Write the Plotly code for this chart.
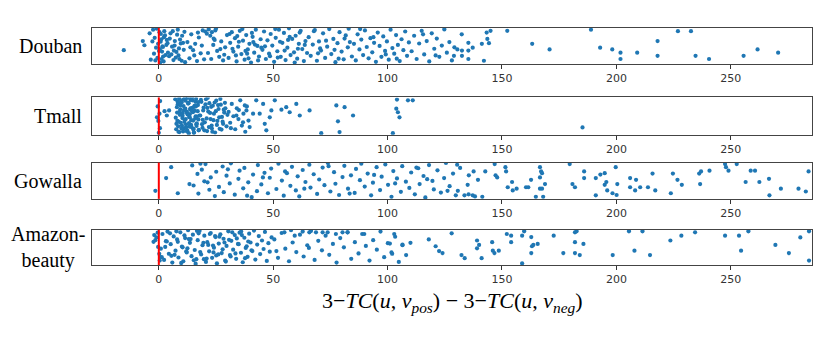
import plotly.graph_objects as go

# panel names (left labels)
datasets = ["Douban", "Tmall", "Gowalla", "Amazon-<br>beauty"]
tick_vals = [0, 50, 100, 150, 200, 250]

# Douban: x = metric difference, y = vertical jitter (0..1)
douban_x = [-15.3, -7.0, -6.3, -4.0, -3.5,
            -2.5, -1.8, -1.2, -0.6, 0.3, 0.8, 1.4, 2.1, 2.7, 3.3, -2.1, -0.9, 0.5, 1.1, 1.9, 2.4, 3.8, -1.5, 0.1, 0.9, 1.6, 2.9, 3.5, -0.3, 1.2, 2.2, 4.0, -2.8, 0.6, 1.8,
            4.5, 5.1, 5.8, 6.4, 7.0, 7.7, 8.3, 9.0, 9.6, 10.2, 10.9, 11.5, 4.8, 5.5, 6.1, 6.9, 7.4, 8.0, 8.8, 9.3, 10.0, 10.6, 11.2, 6.6, 8.6,
            12.5, 13.4, 14.2, 15.0, 15.9, 16.7, 17.5, 18.3, 19.2, 13.8, 15.5, 17.1, 18.8, 19.8,
            20.3, 21.0, 21.8, 22.5, 23.2, 24.0, 24.7, 25.5, 26.4, 27.3, 28.1, 29.0, 29.8, 21.5, 23.8, 25.0, 26.9, 28.6, 22.9, 24.4,
            30.5, 31.2, 31.9, 32.6, 33.3, 34.0, 34.7, 35.4, 36.1, 36.8, 37.5, 38.2, 38.9, 39.6, 40.3, 41.0, 41.7, 42.4, 43.1, 43.8, 44.5, 30.9, 32.2, 33.7, 35.0, 36.5, 37.9, 39.2, 40.7, 42.0, 43.4, 44.8, 34.3, 38.6, 41.3,
            45.3, 46.0, 46.8, 47.5, 48.2, 48.9, 49.6, 50.4, 51.1, 51.8, 52.5, 53.3, 54.0, 54.7, 55.4, 56.2, 56.9, 57.6, 58.3, 59.1, 59.8, 60.5, 61.2, 62.0, 62.7, 63.4, 64.1, 64.8, 46.4, 48.6, 50.9, 53.0, 55.0, 57.2, 59.4, 61.6, 63.8, 52.0, 56.5, 60.8,
            65.5, 66.4, 67.3, 68.2, 69.1, 70.0, 70.9, 71.8, 72.7, 73.6, 74.5, 75.4, 76.3, 77.2, 78.1, 79.0, 79.9, 80.8, 81.7, 82.6, 83.5, 84.4, 67.8, 70.5, 73.1, 76.8, 78.6, 81.2, 83.0, 69.6,
            85.3, 86.1, 86.9, 87.7, 88.5, 89.3, 90.1, 90.9, 91.7, 92.5, 93.3, 94.1, 94.9, 95.7, 96.5, 97.3, 98.1, 98.9, 99.7, 100.5, 101.3, 102.1, 102.9, 103.7, 104.5, 105.3, 106.1, 106.9, 107.7, 108.5, 109.3, 88.0, 93.8, 99.2, 104.0,
            110.5, 111.6, 112.7, 113.8, 114.9, 116.0, 117.1, 118.2, 119.3, 120.4, 121.5, 122.6, 123.7, 124.8, 125.9, 127.0, 128.1, 129.2, 115.5, 121.0,
            132.4, 143.3, 145.0, 152.3, 143.6, 144.3, 141.2, 135.3, 137.2, 130.5, 132.5, 135.3, 129.0, 132.5, 135.3, 142.1,
            163.2, 170.8, 188.9, 192.9, 198.2, 201.8, 201.8, 209.1, 218.0, 218.0, 226.9, 232.6, 234.6, 240.5, 255.6, 261.7, 270.7]
douban_y = [0.37, 0.63, 0.51, 0.85, 0.10,
            0.95, 0.72, 0.44, 0.15, 0.88, 0.61, 0.33, 0.05, 0.79, 0.52, 0.27, 0.98, 0.40, 0.68, 0.19, 0.91, 0.57, 0.08, 0.35, 0.83, 0.48, 0.23, 0.66, 0.55, 0.12, 0.74, 0.30, 0.62, 0.02, 0.46,
            0.20, 0.85, 0.47, 0.09, 0.63, 0.32, 0.95, 0.12, 0.56, 0.78, 0.38, 0.03, 0.70, 0.25, 0.91, 0.50, 0.16, 0.81, 0.42, 0.67, 0.07, 0.58, 0.89, 0.36, 0.22,
            0.60, 0.14, 0.82, 0.37, 0.55, 0.06, 0.73, 0.28, 0.93, 0.45, 0.22, 0.87, 0.50, 0.11,
            0.90, 0.84, 0.96, 0.78, 0.88, 0.70, 0.93, 0.35, 0.18, 0.62, 0.08, 0.45, 0.80, 0.29, 0.52, 0.98, 0.40, 0.24, 0.12, 0.66,
            0.15, 0.58, 0.88, 0.33, 0.71, 0.05, 0.47, 0.92, 0.26, 0.64, 0.10, 0.80, 0.39, 0.55, 0.02, 0.75, 0.30, 0.95, 0.49, 0.19, 0.68, 0.83, 0.41, 0.22, 0.61, 0.97, 0.35, 0.14, 0.86, 0.53, 0.08, 0.44, 0.77, 0.27, 0.60,
            0.38, 0.90, 0.12, 0.65, 0.27, 0.83, 0.50, 0.04, 0.72, 0.34, 0.95, 0.18, 0.58, 0.86, 0.09, 0.44, 0.99, 0.23, 0.69, 0.31, 0.78, 0.13, 0.55, 0.92, 0.40, 0.06, 0.63, 0.29, 0.48, 0.20, 0.97, 0.61, 0.36, 0.75, 0.02, 0.87, 0.52, 0.16, 0.66, 0.41,
            0.74, 0.21, 0.53, 0.94, 0.07, 0.62, 0.36, 0.85, 0.15, 0.47, 0.97, 0.26, 0.69, 0.03, 0.57, 0.88, 0.33, 0.11, 0.79, 0.45, 0.60, 0.19, 0.91, 0.42, 0.64, 0.38, 0.13, 0.70, 0.98, 0.28,
            0.55, 0.08, 0.82, 0.39, 0.67, 0.23, 0.93, 0.46, 0.14, 0.71, 0.31, 0.58, 0.04, 0.87, 0.49, 0.18, 0.76, 0.35, 0.62, 0.10, 0.95, 0.43, 0.27, 0.80, 0.52, 0.06, 0.68, 0.37, 0.90, 0.21, 0.59, 0.97, 0.74, 0.25, 0.13,
            0.34, 0.78, 0.12, 0.56, 0.92, 0.25, 0.63, 0.05, 0.85, 0.41, 0.70, 0.18, 0.50, 0.96, 0.30, 0.60, 0.08, 0.45, 0.82, 0.22,
            0.82, 0.87, 0.92, 0.92, 0.69, 0.57, 0.55, 0.58, 0.44, 0.39, 0.36, 0.36, 0.21, 0.21, 0.12, 0.07,
            0.55, 0.39, 0.95, 0.44, 0.39, 0.30, 0.12, 0.30, 0.63, 0.21, 0.91, 0.91, 0.21, 0.12, 0.21, 0.39, 0.30]

tmall_x = [-0.5, 0.3, -0.2, 0.5, 0.0, -0.8, 0.6, 2.5, 3.5, 4.5,
           7.2, 7.6, 8.0, 8.3, 8.7, 9.0, 9.4, 9.7, 10.1, 10.4, 10.8, 11.1, 11.5, 11.8, 12.2, 12.5, 12.9, 13.2, 13.6, 13.9, 14.3, 14.6, 15.0, 15.3, 15.7, 16.0, 16.4, 16.7, 17.1, 17.5,
           7.4, 7.9, 8.5, 8.9, 9.2, 9.6, 10.0, 10.6, 11.0, 11.3, 11.7, 12.0, 12.4, 12.8, 13.1, 13.5, 13.8, 14.1, 14.5, 14.9, 15.2, 15.6, 15.9, 16.3, 16.6, 17.0, 17.4, 17.8,
           7.7, 8.2, 8.6, 9.1, 9.5, 9.9, 10.3, 10.7, 11.2, 11.6, 12.1, 12.6, 13.0, 13.4, 13.7, 14.2, 14.7, 15.1, 15.5, 16.1, 16.5, 17.2,
           8.1, 9.3, 10.5, 11.9, 12.7, 13.3, 14.4, 15.4, 16.2, 17.3,
           18.1, 18.6, 19.1, 19.6, 20.1, 20.6, 21.1, 21.6, 22.1, 22.6, 23.1, 23.6, 24.1, 24.6, 25.1, 25.6, 26.1, 26.6, 27.1, 27.6, 28.1, 28.6, 29.1, 29.6, 30.0,
           18.4, 18.9, 19.4, 19.9, 20.4, 20.9, 21.4, 21.9, 22.4, 22.9, 23.4, 23.9, 24.4, 24.9, 25.4, 25.9, 26.4, 26.9, 27.4, 27.9, 28.4, 28.9, 19.2, 21.2, 23.2,
           30.5, 31.2, 31.9, 32.6, 33.4, 34.1, 34.8, 35.6, 36.3, 37.0, 37.8, 38.5, 39.2, 31.5, 35.0,
           33.9, 36.8, 37.6, 38.3, 39.7, 41.2, 42.6, 44.1, 45.6, 46.3, 47.0, 48.5, 49.2, 50.7,
           53.6, 55.7, 57.2, 60.1, 61.6, 65.9, 71.0, 77.6, 78.3, 79.0, 81.2, 84.9,
           104.1, 108.9, 111.0, 103.8, 104.5, 105.2, 102.3, 185.2]
tmall_y = [0.75, 0.55, 0.35, 0.15, 0.02, 0.45, 0.90, 0.62, 0.50, 0.64,
           0.95, 0.12, 0.58, 0.81, 0.33, 0.04, 0.67, 0.90, 0.22, 0.49, 0.76, 0.15, 0.98, 0.40, 0.61, 0.08, 0.85, 0.29, 0.54, 0.93, 0.18, 0.71, 0.36, 0.02, 0.63, 0.88, 0.26, 0.47, 0.79, 0.10,
           0.44, 0.73, 0.20, 0.97, 0.52, 0.30, 0.86, 0.06, 0.65, 0.38, 0.91, 0.17, 0.56, 0.83, 0.01, 0.45, 0.70, 0.24, 0.99, 0.59, 0.13, 0.77, 0.42, 0.96, 0.28, 0.62, 0.09, 0.50,
           0.27, 0.89, 0.05, 0.60, 0.78, 0.14, 0.43, 0.94, 0.32, 0.69, 0.07, 0.53, 0.84, 0.19, 0.66, 0.37, 0.92, 0.11, 0.74, 0.48, 0.21, 0.87,
           0.35, 0.82, 0.57, 0.25, 0.99, 0.46, 0.64, 0.03, 0.75, 0.39,
           0.50, 0.88, 0.16, 0.72, 0.31, 0.95, 0.07, 0.61, 0.84, 0.40, 0.22, 0.77, 0.55, 0.03, 0.91, 0.35, 0.68, 0.13, 0.80, 0.46, 0.27, 0.58, 0.70, 0.20, 0.52,
           0.93, 0.26, 0.64, 0.09, 0.81, 0.42, 0.99, 0.18, 0.57, 0.74, 0.05, 0.37, 0.86, 0.62, 0.24, 0.79, 0.45, 0.96, 0.11, 0.33, 0.66, 0.85, 0.38, 0.71, 0.14,
           0.60, 0.30, 0.82, 0.48, 0.12, 0.70, 0.40, 0.92, 0.22, 0.55, 0.05, 0.75, 0.36, 0.15, 0.65,
           0.50, 0.31, 0.78, 0.64, 0.18, 0.55, 0.92, 0.55, 0.82, 0.27, 0.09, 0.45, 0.64, 0.92,
           0.66, 0.73, 0.59, 0.82, 0.50, 0.64, 0.01, 0.78, 0.34, 0.04, 0.73, 0.50,
           0.94, 0.92, 0.92, 0.69, 0.59, 0.45, 0.01, 0.17]

gowalla_x = [-1.5, 3.2, 5.4, 8.3, 13.4,
             14.6, 15.2, 16.9, 17.3, 18.8, 19.9, 20.4, 22.1, 22.7, 24.5, 25.1, 26.3, 27.9, 28.4, 29.6, 31.0, 31.5, 33.2, 34.8, 35.3,
             36.9, 37.4, 39.1, 40.6, 41.2, 42.9, 43.3, 44.8, 46.2, 47.7, 48.5, 49.1, 51.4, 52.3, 53.8, 54.6, 56.0, 57.5, 58.2, 59.9,
             60.7, 61.4, 62.9, 64.1, 65.8, 66.3, 67.7, 69.2, 70.1, 71.6, 72.4, 73.9, 75.0, 76.6, 77.2, 78.8, 80.3, 81.1, 82.7, 84.0,
             85.6, 86.2, 87.9, 88.5, 90.0, 91.3, 92.8, 93.6, 95.2, 96.7, 97.4, 99.0, 100.2, 101.7, 102.5, 104.1, 105.8, 106.4, 108.0, 109.5,
             110.3, 111.9, 113.4, 114.0, 115.7, 116.5, 118.1, 119.6, 120.2, 121.8, 123.3, 124.7, 125.5, 127.1, 128.6, 129.8, 21.3, 30.2, 45.5, 63.6,
             74.2, 83.4, 94.1, 103.3, 112.6, 117.3, 126.2, 18.2, 38.6, 55.2,
             130.4, 131.7, 135.5, 137.6, 139.5, 142.7, 146.8, 147.2, 147.9, 151.5, 151.8, 152.5, 154.4, 154.7, 156.4, 160.5, 161.5, 162.7,
             166.6, 167.1, 167.5, 166.6, 168.8, 166.6, 167.5, 164.8, 168.0, 130.7, 135.0, 135.4, 133.6, 137.2, 138.2, 141.4,
             179.6, 180.8, 181.9, 185.9, 185.9, 191.0, 191.0, 193.0, 194.9, 195.6, 194.9, 196.0, 198.3, 200.4, 199.7, 200.1,
             206.0, 206.0, 208.6, 208.2, 210.4, 213.8, 215.8, 217.0, 223.8, 224.7, 226.7, 228.6, 236.2, 237.0, 236.6, 240.7,
             247.5, 247.9, 249.0, 252.6, 256.5, 258.7, 260.6, 262.5, 266.7, 266.9, 271.9, 279.6, 282.8, 284.0]
gowalla_y = [0.20, 0.56, 0.87, 0.13, 0.39,
             0.92, 0.35, 0.68, 0.12, 0.80, 0.47, 0.96, 0.23, 0.58, 0.05, 0.74, 0.31, 0.89, 0.16, 0.63, 0.41, 0.98, 0.09, 0.54, 0.77,
             0.27, 0.85, 0.44, 0.02, 0.66, 0.19, 0.93, 0.38, 0.71, 0.13, 0.57, 0.83, 0.25, 0.97, 0.49, 0.06, 0.70, 0.34, 0.88, 0.21,
             0.61, 0.04, 0.79, 0.45, 0.94, 0.29, 0.67, 0.11, 0.52, 0.86, 0.36, 0.99, 0.18, 0.73, 0.40, 0.08, 0.59, 0.91, 0.26, 0.64,
             0.14, 0.82, 0.50, 0.97, 0.32, 0.69, 0.07, 0.43, 0.87, 0.22, 0.60, 0.95, 0.37, 0.03, 0.76, 0.55, 0.17, 0.90, 0.46, 0.28,
             0.72, 0.10, 0.84, 0.39, 0.62, 0.01, 0.93, 0.48, 0.24, 0.78, 0.15, 0.56, 0.99, 0.33, 0.69, 0.07, 0.44, 0.81, 0.58, 0.26,
             0.90, 0.12, 0.65, 0.41, 0.86, 0.53, 0.20, 0.97, 0.06, 0.75,
             0.94, 0.85, 0.64, 0.75, 0.51, 0.75, 0.96, 0.64, 0.58, 0.87, 0.75, 0.30, 0.45, 0.21, 0.26, 0.30, 0.30, 0.51,
             0.87, 0.75, 0.70, 0.58, 0.39, 0.26, 0.26, 0.03, 0.03, 0.20, 0.37, 0.10, 0.07, 0.07, 0.04, 0.03,
             0.96, 0.39, 0.30, 0.75, 0.56, 0.07, 0.56, 0.66, 0.70, 0.45, 0.37, 0.21, 0.13, 0.39, 0.87, 0.08,
             0.56, 0.30, 0.51, 0.21, 0.30, 0.30, 0.69, 0.21, 0.13, 0.69, 0.51, 0.37, 0.69, 0.75, 0.39, 0.77,
             0.96, 0.87, 0.77, 0.96, 0.45, 0.77, 0.77, 0.45, 0.54, 0.07, 0.26, 0.26, 0.18, 0.75]

amazon_x = [-2.0, -1.5, -1.0, -0.5, -2.3, 0.2, 0.4, -0.3, 0.6,
            0.9, 1.6, 2.3, 3.1, 3.8, 4.4, 5.2, 5.9, 6.5, 7.3, 8.0, 8.6, 9.4, 10.1, 10.7, 11.5, 12.2, 12.8, 13.6, 14.3,
            14.9, 15.7, 16.4, 17.0, 17.8, 18.5, 19.1, 19.9, 20.6, 21.2, 22.0, 22.7, 23.3, 24.1, 24.8, 25.4, 26.2, 26.9, 27.5, 28.3,
            29.0, 29.6, 30.4, 31.1, 31.7, 32.5, 33.2, 33.8, 34.6, 35.3, 35.9, 36.7, 37.4, 38.0, 38.8, 39.5, 40.1, 40.9, 41.6, 42.2,
            43.0, 43.7, 44.3, 45.1, 45.8, 46.4, 47.2, 47.9, 48.5, 49.3, 1.3, 2.8, 4.9, 6.9, 8.3, 9.8, 11.2, 12.5, 13.9, 15.3,
            16.7, 18.1, 19.5, 20.9, 22.3, 23.7, 25.1, 26.5, 27.9, 29.3, 30.7, 32.1, 33.5, 34.9, 36.3, 37.7, 39.1, 40.5, 5.5, 7.7,
            10.4, 13.1, 16.1, 17.4, 21.6, 23.9, 24.6, 28.7, 31.4, 34.1, 36.0, 38.4, 3.5, 12.0, 19.7, 26.0,
            50.5, 52.1, 53.7, 55.3, 56.9, 58.5, 60.1, 61.7, 63.3, 64.9, 66.5, 68.1, 69.7, 71.3, 72.9, 74.5, 76.1, 77.7, 79.3, 80.9,
            82.5, 84.1, 85.7, 87.3, 88.9, 90.5, 92.1, 93.7, 95.3, 96.9, 98.5, 100.1, 101.7, 103.3, 104.9, 106.5, 108.1, 51.4, 57.8, 65.6,
            54.9, 59.4, 62.9, 65.8, 68.7, 71.6, 73.8, 77.4, 80.3, 82.5, 89.8, 102.9,
            101.0, 102.0, 106.5, 110.0, 118.0, 121.0, 122.5, 124.0, 128.0,
            132.3, 133.7, 139.1, 140.0, 139.1, 141.1, 145.7, 146.0, 146.7, 148.6, 152.1, 154.0, 154.0, 158.8, 159.7, 158.8,
            162.8, 163.1, 163.7, 165.6, 162.8, 172.6, 176.8, 181.9, 182.6, 181.9, 185.6, 181.9, 184.0,
            198.4, 205.5, 207.9, 211.4, 214.7, 223.6, 228.4, 234.4, 247.5, 253.6, 254.5, 257.7, 269.5, 275.4, 280.4, 284.2, 284.2]
amazon_y = [0.85, 0.70, 0.78, 0.92, 0.65, 0.30, 0.10, 0.50, 0.20,
            0.45, 0.88, 0.12, 0.67, 0.95, 0.30, 0.58, 0.04, 0.81, 0.39, 0.72, 0.19, 0.93, 0.51, 0.08, 0.76, 0.34, 0.99, 0.62, 0.23,
            0.86, 0.41, 0.14, 0.70, 0.97, 0.28, 0.55, 0.83, 0.06, 0.64, 0.37, 0.91, 0.18, 0.48, 0.79, 0.02, 0.60, 0.87, 0.32, 0.74,
            0.10, 0.53, 0.96, 0.26, 0.68, 0.42, 0.85, 0.15, 0.59, 0.92, 0.33, 0.05, 0.77, 0.47, 0.21, 0.89, 0.63, 0.38, 0.98, 0.13,
            0.57, 0.82, 0.29, 0.69, 0.44, 0.94, 0.09, 0.61, 0.36, 0.78, 0.20, 0.50, 0.90, 0.27, 0.65, 0.03, 0.84, 0.46, 0.73, 0.11,
            0.97, 0.35, 0.62, 0.16, 0.88, 0.54, 0.25, 0.80, 0.43, 0.07, 0.71, 0.93, 0.31, 0.58, 0.85, 0.17, 0.66, 0.40, 0.24, 0.96,
            0.49, 0.73, 0.01, 0.90, 0.56, 0.34, 0.82, 0.63, 0.22, 0.75, 0.95, 0.52, 0.66, 0.37, 0.14, 0.28,
            0.72, 0.18, 0.91, 0.45, 0.08, 0.63, 0.35, 0.86, 0.22, 0.55, 0.97, 0.12, 0.68, 0.40, 0.83, 0.27, 0.59, 0.04, 0.76, 0.49,
            0.93, 0.15, 0.64, 0.31, 0.88, 0.53, 0.10, 0.70, 0.42, 0.95, 0.20, 0.61, 0.34, 0.80, 0.06, 0.57, 0.26, 0.38, 0.99, 0.47,
            0.93, 0.83, 0.95, 0.93, 0.93, 0.93, 0.93, 0.88, 0.93, 0.93, 0.88, 0.88,
            0.60, 0.30, 0.55, 0.62, 0.72, 0.52, 0.38, 0.32, 0.90,
            0.26, 0.17, 0.69, 0.56, 0.46, 0.17, 0.64, 0.39, 0.32, 0.39, 0.88, 0.83, 0.64, 0.83, 0.96, 0.02,
            0.79, 0.52, 0.56, 0.59, 0.32, 0.83, 0.32, 0.93, 0.96, 0.64, 0.59, 0.32, 0.26,
            0.26, 0.96, 0.39, 0.96, 0.26, 0.69, 0.83, 0.93, 0.83, 0.83, 0.39, 0.96, 0.56, 0.32, 0.78, 0.96, 0.10]

panels = [(douban_x, douban_y), (tmall_x, tmall_y), (gowalla_x, gowalla_y), (amazon_x, amazon_y)]
# vertical domains (fractions of the plot area) for the four strips
domains = [[0.847, 1.0], [0.550, 0.707], [0.279, 0.432], [0.0, 0.148]]
label_x = [-0.011, -0.011, -0.011, -0.007]

fig = go.Figure()
# the page body adds an 8px offset, so the figure is drawn 8px smaller
layout = dict(
    width=823, height=329,
    margin=dict(l=84, r=19, t=20, b=72, autoexpand=False),
    paper_bgcolor="white", plot_bgcolor="white",
    showlegend=False,
)
shapes = []
annotations = []
for i, (xs, ys) in enumerate(panels):
    n = "" if i == 0 else str(i + 1)
    fig.add_trace(go.Scatter(x=xs, y=ys, mode="markers", xaxis="x" + n, yaxis="y" + n,
                             marker=dict(size=4.2, color="#1f77b4", line=dict(width=0)),
                             hoverinfo="x"))
    layout["xaxis" + n] = dict(domain=[0, 1], anchor="y" + n, range=[-29.2, 285.5],
                               tickvals=tick_vals, ticks="outside", ticklen=4, tickcolor="#333",
                               tickfont=dict(family="DejaVu Sans", size=11, color="#333"),
                               showgrid=False, zeroline=False, showline=True, mirror=True,
                               linecolor="#444", linewidth=1)
    layout["yaxis" + n] = dict(domain=domains[i], anchor="x" + n, range=[-0.03, 1.0],
                               showticklabels=False, ticks="", showgrid=False, zeroline=False,
                               showline=True, mirror=True, linecolor="#444", linewidth=1)
    shapes.append(dict(type="line", xref="x" + n, yref="y" + n + " domain", x0=0, x1=0, y0=0, y1=1,
                       line=dict(color="red", width=2)))
    annotations.append(dict(text=datasets[i], xref="paper", yref="paper", x=label_x[i],
                            y=sum(domains[i]) / 2, xanchor="right", yanchor="middle",
                            showarrow=False, align="center",
                            font=dict(family="Liberation Serif", size=20, color="black")))

annotations.append(dict(
    text="3−<i>TC</i>(<i>u</i>, <i>v</i><sub><i>pos</i></sub>) − 3−<i>TC</i>(<i>u</i>, <i>v</i><sub><i>neg</i></sub>)",
    xref="paper", yref="paper", x=0.5, y=-0.09, xanchor="center", yanchor="top",
    showarrow=False, font=dict(family="Liberation Serif", size=22, color="black")))

layout["shapes"] = shapes
layout["annotations"] = annotations
fig.update_layout(**layout)
fig.write_html("out.html")
